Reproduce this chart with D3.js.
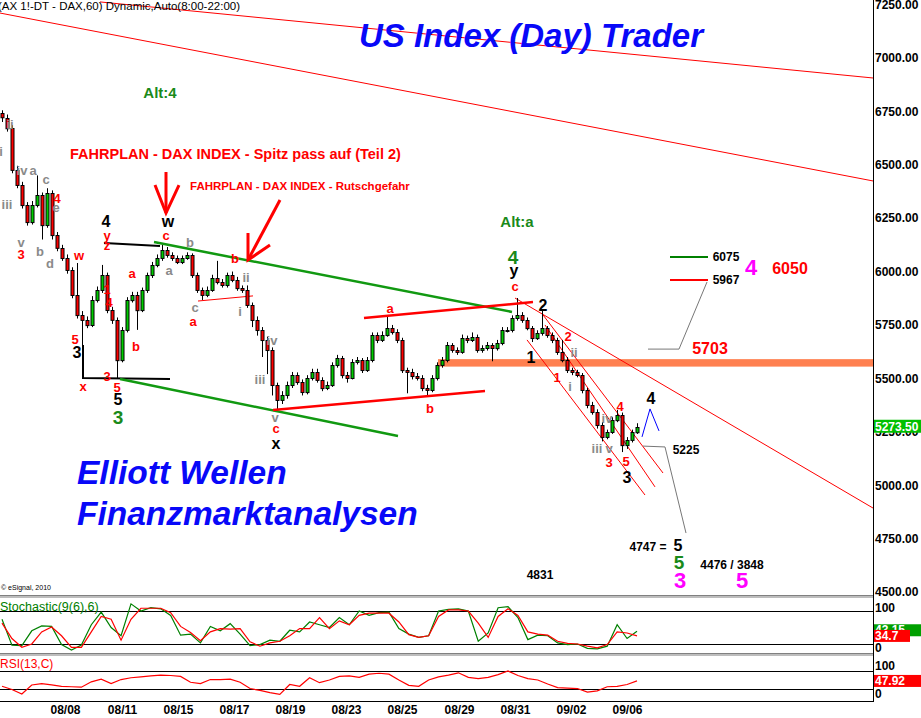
<!DOCTYPE html>
<html>
<head>
<meta charset="utf-8">
<script src="https://cdn.jsdelivr.net/npm/d3@7"></script>
<style>
  body { margin: 0; background: #fff; }
  svg { display: block; }
  text { font-family: "Liberation Sans", Arial, sans-serif; }
</style>
</head>
<body>
<svg id="chart" width="921" height="718"></svg>
<script>
// ---- price data (60 min bars, DAX future) ----
var firstOpen = 6740;
var closes = [6720,6672,6476,6406,6312,6232,6312,6359,6218,6368,
  6171,6111,6064,6008,5891,5797,5774,5750,5867,5914,
  5984,5820,5774,5586,5727,5867,5891,5820,5914,5984,
  6031,6064,6101,6078,6064,6045,6064,6078,5984,5914,
  5891,5914,5970,5951,5937,5984,5961,5923,5914,5844,
  5774,5727,5680,5633,5469,5399,5422,5469,5516,5483,
  5436,5502,5530,5493,5455,5469,5563,5596,5516,5502,
  5577,5586,5539,5586,5703,5680,5703,5736,5717,5680,
  5539,5530,5511,5502,5455,5446,5502,5563,5586,5656,
  5633,5624,5689,5680,5694,5633,5642,5656,5642,5666,
  5727,5727,5783,5797,5774,5736,5689,5713,5736,5703,
  5680,5624,5586,5539,5530,5516,5446,5376,5343,5282,
  5226,5249,5305,5329,5188,5212,5249,5273.5];
var highs = [6755,6735,6685,6495,6420,6325,6330,6450,6370,6390,
  6380,6185,6125,6080,6020,6040,5815,5790,5885,5930,
  6031,5995,5835,5785,5740,5880,5905,5905,5925,5995,
  6045,6080,6125,6115,6090,6075,6075,6090,6085,5995,
  5925,5930,5985,6050,5965,5995,6000,5975,5935,5935,
  5855,5790,5740,5695,5645,5480,5440,5485,5530,5528,
  5495,5515,5545,5545,5505,5485,5575,5610,5605,5530,
  5590,5600,5595,5600,5715,5715,5720,5788,5750,5730,
  5690,5550,5545,5525,5515,5470,5515,5575,5600,5670,
  5665,5645,5705,5700,5715,5705,5655,5670,5665,5680,
  5740,5740,5795,5876,5810,5785,5745,5725,5820,5745,
  5715,5690,5680,5600,5550,5540,5525,5455,5390,5355,
  5295,5260,5318,5352,5340,5225,5260,5290];
var lows = [6700,6655,6460,6390,6295,6215,6220,6300,6150,6205,
  6150,6095,6050,5990,5875,5780,5560,5735,5740,5855,
  5900,5805,5755,5500,5575,5715,5855,5727,5810,5900,
  5970,6020,6050,6065,6050,6035,6035,6055,5970,5900,
  5867,5880,5905,5940,5925,5925,5950,5910,5900,5830,
  5740,5700,5600,5520,5420,5352,5380,5405,5455,5470,
  5420,5425,5490,5480,5440,5445,5460,5550,5500,5480,
  5495,5565,5525,5530,5575,5665,5670,5695,5705,5665,
  5525,5430,5495,5490,5440,5422,5435,5490,5550,5575,
  5620,5610,5615,5665,5670,5620,5620,5630,5580,5630,
  5655,5715,5715,5770,5760,5725,5670,5680,5700,5690,
  5665,5610,5575,5525,5515,5505,5430,5360,5330,5265,
  5205,5215,5240,5295,5155,5170,5200,5240];

// oscillators, sampled every 2nd bar (last one = last bar)
var stochK = [65,18,17,44,53,52,19,9,18,55,78,50,35,93,80,86,84,72,36,38,
  22,52,44,57,38,17,19,27,25,45,42,60,55,50,68,55,80,72,77,78,
  48,38,32,35,80,83,84,80,25,40,86,88,68,28,36,35,22,19,20,12,
  11,16,55,30,43.15];
var stochD = [58,30,14,20,42,51,35,14,14,42,70,65,27,65,85,85,85,77,52,41,
  26,42,48,47,48,24,16,22,25,35,48,48,68,48,62,55,72,76,76,76,
  60,37,32,35,70,82,82,80,58,32,70,84,72,42,38,36,25,21,20,16,
  13,19,42,40,34.7];
var rsi = [36,29,19,39,42,39,36,35,34,46,52,42,51,55,57,59,61,60,58,45,
  42,51,51,52,45,31,27,22,18,40,36,55,44,50,58,59,56,63,65,63,
  50,38,36,50,57,61,66,56,53,56,62,70,60,53,50,41,33,32,31,23,
  26,35,36,40,47.92];

// axes
var priceTicks = [4500,4750,5000,5250,5500,5750,6000,6250,6500,6750,7000,7250];
var dateIdx = [12.6,24,35.2,46.4,57.6,68.8,80,91.4,102.6,113.8,125];
var dateLabels = ["08/08","08/11","08/15","08/17","08/19","08/23","08/25","08/29","08/31","09/02","09/06"];

// wave counts: [bar, price, text]
var grayLabels = [[1.6,6686,"ii"],[-0.2,6560,"i"],[4,6471,"iv"],[6.2,6475,"a"],[1,6312,"iii"],
  [8.8,6429,"c"],[10.8,6302,"e"],[3.8,6138,"v"],[7.6,6096,"b"],[9.6,6040,"d"],
  [37.6,6134,"b"],[33.4,6003,"a"],[48.8,5970,"ii"],[38.6,5834,"c"],[47.6,5811,"i"],
  [54,5675,"iv"],[51.6,5497,"iii"],[54.6,5319,"v"],[114.4,5619,"ii"],[113.6,5460,"i"],
  [121,5310,"iv"],[119,5174,"iii"],[121.4,5174,"v"]];
var redLabels = [[3.8,6082,"3"],[11,6344,"4"],[15.4,6077,"w"],[21,5914,"1"],[21.4,5853,"4"],
  [26,5993,"a"],[26.8,5647,"b"],[14.6,5680,"5"],[21,5511,"3"],[16.2,5464,"x"],[23,5455,"5"],
  [21,6171,"y"],[21,6120,"z"],[32.8,6171,"c"],[46.6,6059,"b"],[38.2,5764,"a"],[54.8,5263,"c"],
  [77.6,5829,"a"],[85.6,5361,"b"],[102.6,5928,"c"],[113.2,5698,"2"],[111,5506,"1"],
  [123.6,5366,"4"],[121.4,5104,"3"],[124.8,5109,"5"]];
var redBigLabels = [[141.6,5642,"5703"],[157.6,6012,"6050"]];
var blackLabels = [[20.8,6232,"4"],[15,5619,"3"],[23.2,5399,"5"],[33.2,6232,"w"],[54.8,5193,"x"],
  [102.4,6007,"y"],[108.2,5839,"2"],[105.8,5600,"1"],[125,5038,"3"],[129.8,5408,"4"],[135.2,4720,"5"]];
var greenLabels = [[23.2,5319,"3"],[102.2,6068,"4"],[135.4,4640,"5"]];
var magentaLabels = [[135.6,4556,"3"],[148,4556,"5"],[149.8,6017,"4"]];
var noteLabels = [[144.8,6068,"6075"],[144.8,5960,"5967"],[136.8,5165,"5225"],
  [129.2,4711,"4747 ="],[146,4626,"4476 / 3848"],[107.6,4580,"4831"]];
var altLabels = [[31.6,6836,"Alt:4"],[103,6232,"Alt:a"]];

// drawn lines: [[bar, price], ...]
var blackLines = [[[20.4,6134],[31.6,6120]], [[16.2,5656],[16.2,5502],[33.6,5497]]];
var greenLines = [[[30.4,6138],[102,5811]], [[23.6,5497],[79.2,5230]]];
var redThick = [[[72.4,5783],[106.2,5857]], [[54.2,5352],[96.6,5441]]];
var redThin = [[[39.2,5862],[50.2,5886]], [[102.6,5876],[174.2,4893]], [[108.2,5797],[132.2,5057]],
  [[105,5680],[128.6,4954]], [[108.6,5750],[130.6,4992]], [[19.6,7262],[174.2,6906]],
  [[-0.4,7210],[174.2,6424]]];
var grayLines = [[[129.2,5637],[135.4,5637],[141,5951]], [[128.2,5183],[132.6,5179],[136.8,4776]]];
var blueLines = [[[128,5226],[129.6,5357],[131.4,5254]]];
var levelGreen = [[133.6,6068],[141.2,6068]];
var levelRed = [[133.6,5960],[141.2,5960]];
var arrows = [[[32.8,6466],[32.8,6274]], [[30.6,6405],[32.8,6274],[35.4,6405]],
  [[55.6,6335],[49.2,6054]], [[49.2,6180],[49.2,6054],[53.6,6124]]];
var band = [87.2, 174.2, 5555, 5590];

// ---- scales ----
var svg = d3.select("#chart");
var x = d3.scaleLinear().domain([0, 127]).range([2, 637]);
var y = d3.scaleLinear().domain([4500, 7250]).range([592, 4.5]);
var oscX = d3.scaleLinear().domain([0, stochK.length - 1]).range([x(0), x(127)]);
var stochY = d3.scaleLinear().domain([0, 100]).range([655, 600]);
var rsiY = d3.scaleLinear().domain([0, 100]).range([702.5, 657.5]);
var axisX = 873;

svg.append("rect").attr("width", 921).attr("height", 718).attr("fill", "#fff");

svg.append("defs").append("clipPath").attr("id", "clip")
  .append("rect").attr("x", 0).attr("y", 0).attr("width", axisX).attr("height", 594);

var plot = svg.append("g").attr("clip-path", "url(#clip)");
var line = d3.line().x(function (d) { return x(d[0]); }).y(function (d) { return y(d[1]); });

// resistance band
plot.append("rect")
  .attr("x", x(band[0])).attr("width", x(band[1]) - x(band[0]))
  .attr("y", y(band[3])).attr("height", y(band[2]) - y(band[3]))
  .attr("fill", "#ff8050");

// thin lines behind candles
function drawLines(data, color, width) {
  plot.append("g").selectAll("path").data(data).join("path")
    .attr("d", line).attr("fill", "none").attr("stroke", color).attr("stroke-width", width);
}
drawLines(redThin, "#ff0000", 1);

// candles
var bars = closes.map(function (c, i) {
  return { i: i, o: i === 0 ? firstOpen : closes[i - 1], h: highs[i], l: lows[i], c: c };
});
var cg = plot.append("g");
cg.selectAll("line").data(bars).join("line")
  .attr("x1", function (d) { return x(d.i) + 0.5; }).attr("x2", function (d) { return x(d.i) + 0.5; })
  .attr("y1", function (d) { return y(d.h); }).attr("y2", function (d) { return y(d.l); })
  .attr("stroke", "#000").attr("stroke-width", 1);
cg.selectAll("rect").data(bars).join("rect")
  .attr("x", function (d) { return x(d.i) - 1; })
  .attr("width", 3)
  .attr("y", function (d) { return Math.round(y(Math.max(d.o, d.c))) + 0.5; })
  .attr("height", function (d) { return Math.max(1, Math.abs(y(d.o) - y(d.c))); })
  .attr("fill", function (d) { return d.c >= d.o ? "#00cc00" : "#ff0000"; })
  .attr("stroke", "#000").attr("stroke-width", 1);

drawLines(blackLines, "#000", 2);
drawLines(greenLines, "#119911", 2.5);
drawLines(redThick, "#ff0000", 2.5);
drawLines(grayLines, "#777", 1);
drawLines(blueLines, "#0000ff", 1);
drawLines([levelGreen], "#008000", 2);
drawLines([levelRed], "#ff0000", 2);
drawLines(arrows, "#ff0000", 3);

// labels
function labels(data, color, size, weight, style) {
  plot.append("g").selectAll("text").data(data).join("text")
    .attr("x", function (d) { return x(d[0]); })
    .attr("y", function (d) { return y(d[1]); })
    .attr("text-anchor", "middle").attr("dominant-baseline", "central")
    .attr("fill", color).attr("font-size", size).attr("font-weight", weight)
    .attr("font-style", style || "normal")
    .text(function (d) { return d[2]; });
}
labels(grayLabels, "#8a8a8a", 13, "bold");
labels(redLabels, "#ff0000", 13, "bold");
labels(redBigLabels, "#ff0000", 16, "bold");
labels(blackLabels, "#000", 16, "bold");
labels(greenLabels, "#1a8a1a", 19, "bold");
labels(magentaLabels, "#ff00ff", 22, "bold");
labels(noteLabels, "#000", 12, "bold");
labels(altLabels, "#1a8a1a", 15, "bold");

// headings
plot.append("text").attr("x", -2).attr("y", 10).attr("font-size", 11.5).attr("fill", "#000")
  .text("(AX 1!-DT - DAX,60) Dynamic,Auto(8:00-22:00)");
plot.append("text").attr("x", 531).attr("y", 47).attr("text-anchor", "middle")
  .attr("font-size", 33).attr("font-weight", "bold").attr("font-style", "italic").attr("fill", "#0808f8")
  .text("US Index (Day) Trader");
plot.append("text").attr("x", 77).attr("y", 484)
  .attr("font-size", 33.5).attr("font-weight", "bold").attr("font-style", "italic").attr("fill", "#0808f8")
  .text("Elliott Wellen");
plot.append("text").attr("x", 77).attr("y", 525)
  .attr("font-size", 33.5).attr("font-weight", "bold").attr("font-style", "italic").attr("fill", "#0808f8")
  .text("Finanzmarktanalysen");
plot.append("text").attr("x", 70).attr("y", 159).attr("font-size", 14.5).attr("font-weight", "bold")
  .attr("fill", "#ff0000").text("FAHRPLAN - DAX INDEX - Spitz pass auf (Teil 2)");
plot.append("text").attr("x", 190).attr("y", 190).attr("font-size", 11.5).attr("font-weight", "bold")
  .attr("fill", "#ff0000").text("FAHRPLAN - DAX INDEX - Rutschgefahr");
plot.append("text").attr("x", 1).attr("y", 590).attr("font-size", 7).attr("fill", "#000")
  .text("\u00a9 eSignal, 2010");

// right price axis
var yAxis = d3.axisRight(y).tickValues(priceTicks).tickFormat(d3.format(".2f")).tickSize(0).tickPadding(2);
var ya = svg.append("g").attr("transform", "translate(" + axisX + ",0)").call(yAxis);
ya.select(".domain").remove();
ya.selectAll("text").attr("font-size", 12).attr("font-weight", "bold").attr("fill", "#000")
  .attr("font-family", "Liberation Sans, Arial, sans-serif");

// last price tag
var last = closes[closes.length - 1];
svg.append("rect").attr("x", axisX + 1).attr("y", y(last) - 7).attr("width", 47).attr("height", 13).attr("fill", "#00c000");
svg.append("text").attr("x", axisX + 2).attr("y", y(last)).attr("dominant-baseline", "central")
  .attr("font-size", 12).attr("font-weight", "bold").attr("fill", "#fff").text(d3.format(".2f")(last));

// panel separators
[595, 653].forEach(function (sy) {
  svg.append("rect").attr("x", 0).attr("y", sy).attr("width", axisX).attr("height", 3).attr("fill", "#bdbdbd");
  svg.append("line").attr("x1", 0).attr("x2", axisX).attr("y1", sy + 0.5).attr("y2", sy + 0.5).attr("stroke", "#808080");
});

// stochastic + rsi panels
var osc = svg.append("g");
[80, 20].forEach(function (v) {
  osc.append("line").attr("x1", 0).attr("x2", axisX).attr("y1", Math.round(stochY(v)) + 0.5).attr("y2", Math.round(stochY(v)) + 0.5)
    .attr("stroke", "#000");
});
[70, 30].forEach(function (v) {
  osc.append("line").attr("x1", 0).attr("x2", axisX).attr("y1", Math.round(rsiY(v)) + 0.5).attr("y2", Math.round(rsiY(v)) + 0.5)
    .attr("stroke", "#000");
});
var kLine = d3.line().x(function (d, i) { return oscX(i); }).y(function (d) { return stochY(d); });
var rLine = d3.line().x(function (d, i) { return oscX(i); }).y(function (d) { return rsiY(d); });
osc.append("path").attr("d", kLine(stochK)).attr("fill", "none").attr("stroke", "#008000").attr("stroke-width", 1.2);
osc.append("path").attr("d", kLine(stochD)).attr("fill", "none").attr("stroke", "#ff0000").attr("stroke-width", 1.2);
osc.append("path").attr("d", rLine(rsi)).attr("fill", "none").attr("stroke", "#ff0000").attr("stroke-width", 1.2);
osc.append("text").attr("x", 0).attr("y", 611).attr("font-size", 12.5).attr("fill", "#008000").text("Stochastic(9(6),6)");
osc.append("text").attr("x", 0).attr("y", 668).attr("font-size", 12).attr("fill", "#ff0000").text("RSI(13,C)");

function sideLabel(txt, yy) {
  svg.append("text").attr("x", axisX + 2).attr("y", yy).attr("dominant-baseline", "central")
    .attr("font-size", 12).attr("font-weight", "bold").attr("fill", "#000").text(txt);
}
sideLabel("100", stochY(100) + 8);
sideLabel("0", stochY(0) - 7);
sideLabel("100", rsiY(100) + 8.5);
sideLabel("0", rsiY(0) - 8.5);

function tag(val, yy, color, w) {
  svg.append("rect").attr("x", axisX + 1).attr("y", yy - 6).attr("width", w).attr("height", 12).attr("fill", color);
  svg.append("text").attr("x", axisX + 2).attr("y", yy).attr("dominant-baseline", "central")
    .attr("font-size", 12).attr("font-weight", "bold").attr("fill", "#fff").text(val);
}
var kLast = stochK[stochK.length - 1], dLast = stochD[stochD.length - 1], rLast = rsi[rsi.length - 1];
tag(d3.format(".2f")(kLast), stochY(kLast) - 1, "#00a000", 47);
tag(d3.format(".1f")(dLast), stochY(dLast), "#ff0000", 36);
tag(d3.format(".2f")(rLast), rsiY(rLast), "#ff0000", 47);

// axis frame + date axis
svg.append("line").attr("x1", axisX + 0.5).attr("x2", axisX + 0.5).attr("y1", 0).attr("y2", 702).attr("stroke", "#000");
var xAxis = d3.axisBottom(x).tickValues(dateIdx)
  .tickFormat(function (d, i) { return dateLabels[i]; }).tickSize(0).tickPadding(4);
var xa = svg.append("g").attr("transform", "translate(0,701)").call(xAxis);
xa.select(".domain").attr("d", "M0,0.5H" + (axisX + 1)).attr("stroke", "#000");
xa.selectAll("text").attr("font-size", 12).attr("font-weight", "bold").attr("fill", "#000")
  .attr("font-family", "Liberation Sans, Arial, sans-serif");
</script>
</body>
</html>
